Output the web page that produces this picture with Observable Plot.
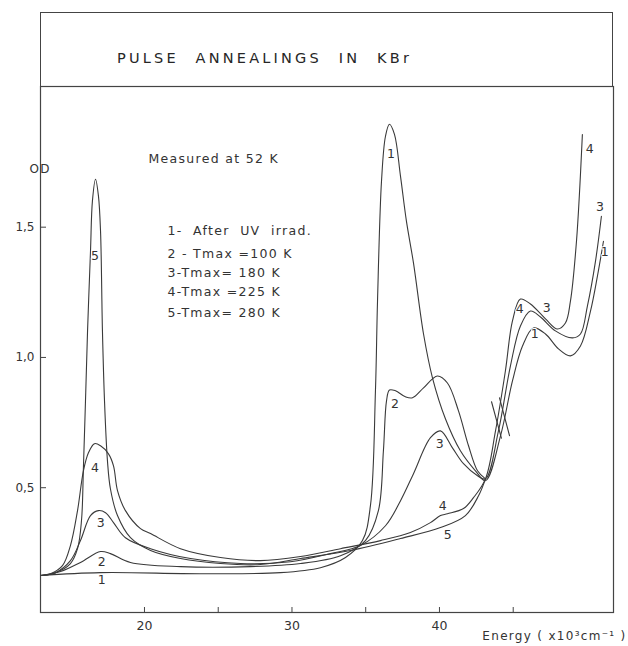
<!DOCTYPE html>
<html><head><meta charset="utf-8">
<script src="https://cdn.jsdelivr.net/npm/d3@7"></script>
<script src="https://cdn.jsdelivr.net/npm/@observablehq/plot@0.6"></script>
<style>
body{margin:0;background:#fff;}
#wrap{position:relative;width:628px;height:646px;}
#titlebox{position:absolute;left:40px;top:12px;width:573px;height:74px;border:1px solid #444;border-bottom:none;box-sizing:border-box;}
#titlebox span{position:absolute;left:76px;top:37px;line-height:16px;font-family:"DejaVu Sans";font-size:14.5px;letter-spacing:3.2px;word-spacing:9px;color:#262626;white-space:nowrap;}
#chart{position:absolute;left:0;top:0;}
svg text{fill:#333;}
g[aria-label="text"] text{letter-spacing:1.3px;}
</style>
</head><body>
<div id="wrap"><div id="chart"></div><div id="titlebox"><span id="title"></span></div></div>
<script>
const titleText = "PULSE ANNEALINGS IN KBr";
const xLabel = "Energy ( x10³cm⁻¹ )";
const yLabel = "OD";
const xTicks = [20, 25, 30, 35, 40, 45];
const xTickLabels = [20, 30, 40];
const yTicks = [0.5, 1.0, 1.5];

// Curve 1 - After UV irrad.
const e1  = [12.95,17.02,23.8,29.22,31.93,33.63,34.78,35.32,35.66,35.8,36.07,36.34,36.61,36.95,37.36,37.76,38.24,38.92,39.53,40.41,41.42,42.44,43.12,44.14,44.95,45.63,46.37,47.19,48.07,48.88,49.56,50.24,50.71,51.12];
const od1 = [0.163,0.174,0.170,0.174,0.193,0.232,0.297,0.431,0.872,1.216,1.676,1.849,1.895,1.856,1.695,1.523,1.362,1.09,0.921,0.764,0.642,0.565,0.527,0.699,0.91,1.044,1.113,1.09,1.033,1.006,1.044,1.178,1.312,1.446];
// Curve 2 - Tmax = 100 K
const e2  = [12.95,14.31,15.66,17.02,17.69,19.05,22.44,27.19,30.58,33.29,34.98,35.86,36.2,36.41,36.61,37.02,37.69,38.17,38.92,39.86,40.54,41.29,41.97,42.58,43.12];
const od2 = [0.163,0.178,0.213,0.255,0.247,0.213,0.197,0.197,0.209,0.239,0.297,0.412,0.642,0.833,0.875,0.872,0.849,0.845,0.883,0.929,0.902,0.795,0.661,0.565,0.534];
// Curve 3 - Tmax = 180 K
const e3  = [12.95,13.97,14.98,15.66,16.34,16.88,17.36,17.9,18.71,20.41,23.12,26.51,29.9,32.61,34.64,36.34,37.36,38.24,39.39,40.07,40.88,41.63,42.58,43.12,44.0,44.81,45.49,46.17,46.85,47.86,49.02,49.56,50.03,50.58,50.98];
const od3 = [0.163,0.174,0.22,0.297,0.393,0.412,0.404,0.366,0.308,0.266,0.228,0.209,0.216,0.247,0.278,0.354,0.45,0.554,0.692,0.718,0.653,0.592,0.546,0.534,0.718,0.967,1.121,1.178,1.155,1.102,1.075,1.09,1.197,1.37,1.542];
// Curve 4 - Tmax = 225 K
const e4  = [12.95,13.63,14.44,14.98,15.46,15.86,16.2,16.61,17.02,17.56,17.9,18.17,18.71,19.73,20.41,22.44,25.15,27.86,30.58,33.29,36.0,38.03,39.39,40.07,40.54,41.63,42.31,43.12,43.8,44.47,44.95,45.49,46.17,47.19,48.0,48.54,48.88,49.29,49.69];
const od4 = [0.163,0.170,0.201,0.278,0.412,0.565,0.634,0.669,0.661,0.630,0.584,0.489,0.412,0.343,0.324,0.266,0.232,0.22,0.236,0.266,0.297,0.328,0.366,0.393,0.4,0.42,0.462,0.534,0.718,0.948,1.14,1.224,1.205,1.148,1.109,1.132,1.216,1.446,1.856];
// Curve 5 - Tmax = 280 K
const e5  = [12.95,13.97,14.98,15.46,15.73,15.86,16.0,16.14,16.34,16.47,16.68,16.88,17.02,17.15,17.29,17.49,17.69,18.17,19.05,20.41,22.44,25.15,27.86,30.58,33.97,37.36,40.07,41.76,42.65,43.12];
const od5 = [0.163,0.174,0.209,0.266,0.374,0.577,0.833,1.102,1.408,1.6,1.684,1.619,1.485,1.102,0.833,0.603,0.496,0.393,0.308,0.259,0.228,0.209,0.205,0.228,0.259,0.305,0.347,0.393,0.469,0.534];

// curve number labels
const labelText = ["5","4","3","2","1","1","2","3","4","5","4","3","1","4","3","1"];
const labelE    = [16.68,16.68,17.08,17.15,17.15,36.75,37.02,40.07,40.27,40.61,45.49,47.32,46.51,50.24,50.92,51.25];
const labelOD   = [1.389,0.577,0.366,0.216,0.144,1.78,0.822,0.669,0.431,0.32,1.186,1.19,1.09,1.799,1.577,1.404];

// annotation block
const noteText = ["Measured at 52 K","1-  After  UV  irrad.","2 - Tmax =100 K","3-Tmax= 180 K","4-Tmax =225 K","5-Tmax= 280 K"];
const noteE    = [20.27,21.56,21.56,21.56,21.56,21.56];
const noteOD   = [1.76,1.485,1.397,1.324,1.251,1.17];

// axis break marks
const breakE  = [[43.53,44.2],[44.07,44.75]];
const breakOD = [[0.83,0.69],[0.845,0.70]];

const series = [["1",e1,od1],["2",e2,od2],["3",e3,od3],["4",e4,od4],["5",e5,od5]];
const rows = series.flatMap(([k,es,ods]) => es.map((e,i)=>({curve:k, e, od:ods[i]})));
const labels = labelText.map((t,i)=>({t, e:labelE[i], od:labelOD[i]}));
const notes = noteText.map((t,i)=>({t, e:noteE[i], od:noteOD[i]}));
const breaks = breakE.flatMap((b,j)=>b.map((e,i)=>({k:j, e, od:breakOD[j][i]})));

document.getElementById("title").textContent = titleText;

const W = 628, H = 646, mL = 40, mR = 15, mT = 86, mB = 34;
const ink = "#3a3a3a";
const plot = Plot.plot({
  width: W, height: H,
  marginLeft: mL, marginRight: mR, marginTop: mT, marginBottom: mB,
  style: {fontFamily: "DejaVu Sans", fontSize: "12px", background: "#fff", color: ink},
  x: {domain: [12.95, 51.8]},
  y: {domain: [0.021, 2.04]},
  marks: [
    Plot.frame({stroke: "#444", strokeWidth: 1.2}),
    Plot.axisX({ticks: xTickLabels, tickSize: 0, tickPadding: 9, label: null, fontSize: 12.5, tickFormat: d => String(d)}),
    Plot.axisY({ticks: yTicks, tickSize: 0, tickPadding: 6, label: null, fontSize: 12, tickFormat: d => d.toFixed(1).replace(".", ",")}),
    Plot.tickX(xTicks, {x: d => d, insetTop: (H - mT - mB) - 5, stroke: "#444"}),
    Plot.tickY(yTicks, {y: d => d, insetRight: (W - mL - mR) - 6, stroke: "#444"}),
    Plot.line(rows, {x: "e", y: "od", z: "curve", curve: "catmull-rom", stroke: ink, strokeWidth: 1.1}),
    Plot.line(breaks, {x: "e", y: "od", z: "k", stroke: ink, strokeWidth: 1.1}),
    Plot.text(labels, {x: "e", y: "od", text: "t", fontSize: 12.5, fill: ink, stroke: "#fff", strokeWidth: 2}),
    Plot.text(notes, {x: "e", y: "od", text: "t", textAnchor: "start", fontSize: 12.5, fill: ink}),
    Plot.text([yLabel], {frameAnchor: "top-left", dx: -11, dy: 78, text: d => d, fontSize: 12, fill: ink}),
    Plot.text([xLabel], {frameAnchor: "bottom-right", dx: 13, dy: 27, textAnchor: "end", text: d => d, fontSize: 12, fill: ink})
  ]
});
document.getElementById("chart").appendChild(plot);
</script>
</body></html>
